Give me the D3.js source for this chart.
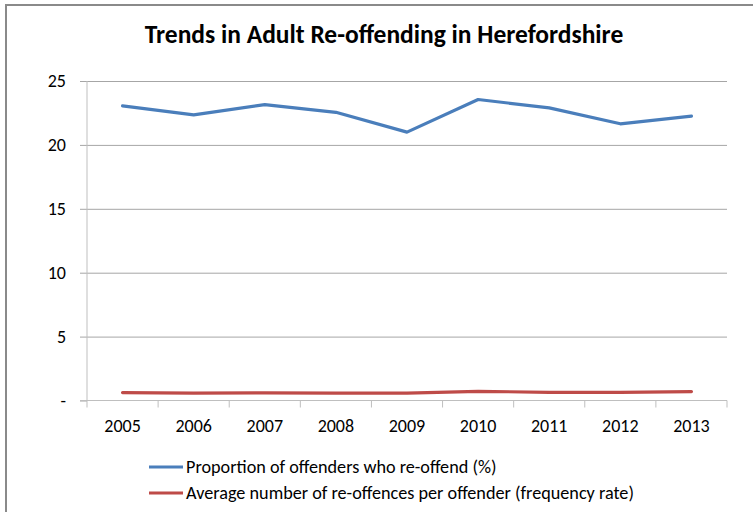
<!DOCTYPE html>
<html>
<head>
<meta charset="utf-8">
<script src="https://cdn.jsdelivr.net/npm/d3@7"></script>
<style>
  body { margin: 0; background: #fff; }
  svg { display: block; }
  text { font-family: Carlito, Lato, "Liberation Sans", sans-serif; fill: #000; }
</style>
</head>
<body>
<svg width="753" height="512"></svg>
<script>
const years = ['2005', '2006', '2007', '2008', '2009', '2010', '2011', '2012', '2013'];
const proportion = [23.05, 22.35, 23.15, 22.55, 21.0, 23.55, 22.9, 21.65, 22.25];
const frequency = [0.62, 0.57, 0.6, 0.57, 0.57, 0.72, 0.64, 0.64, 0.7];
const yTicks = [0, 5, 10, 15, 20, 25];
const seriesNames = [
  'Proportion of offenders who re-offend (%)',
  'Average number of re-offences per offender (frequency rate)'
];
const seriesColors = ['#4A7EBB', '#BE4B48'];

const svg = d3.select('svg');

// outer chart frame (runs off the right and bottom edges)
svg.append('rect')
    .attr('x', 6).attr('y', 5)
    .attr('width', 800).attr('height', 600)
    .attr('fill', 'none')
    .attr('stroke', '#8a8a8a')
    .attr('stroke-width', 2);

svg.append('text')
    .attr('x', 384).attr('y', 43)
    .attr('text-anchor', 'middle')
    .style('font-size', '25.5px')
    .style('font-weight', 'bold')
    .text('Trends in Adult Re-offending in Herefordshire');

const x = d3.scaleBand().domain(years).range([87, 727]);
const y = d3.scaleLinear().domain([0, 25]).range([400.5, 81]);

// gridlines + y axis
const yAxis = svg.append('g')
    .attr('transform', 'translate(87,0)')
    .call(d3.axisLeft(y).tickValues(yTicks).tickSize(7).tickPadding(14)
      .tickFormat(d => d === 0 ? '-' : d));
yAxis.select('.domain').remove();
yAxis.selectAll('.tick line').attr('stroke', '#a6a6a6').attr('x2', -7);
yAxis.selectAll('.tick').filter(d => d > 0).append('line')
    .attr('x1', 0).attr('x2', 640).attr('stroke', '#a6a6a6');
yAxis.selectAll('.tick text').style('font-size', '18px').style('font-family', null);
yAxis.append('line')
    .attr('y1', y(0)).attr('y2', y(25))
    .attr('stroke', '#bfbfbf');

// x axis with ticks between categories
const xg = svg.append('g').attr('transform', `translate(0,${y(0)})`);
xg.append('line').attr('x1', 80).attr('x2', 727).attr('stroke', '#bfbfbf');
xg.selectAll('line.cat')
    .data(years.concat(['end']))
    .join('line')
    .attr('class', 'cat')
    .attr('x1', (d, i) => i < years.length ? x(d) : x.range()[1])
    .attr('x2', (d, i) => i < years.length ? x(d) : x.range()[1])
    .attr('y1', 0).attr('y2', 7)
    .attr('stroke', '#bfbfbf');
xg.selectAll('text')
    .data(years)
    .join('text')
    .attr('x', d => x(d) + x.bandwidth() / 2)
    .attr('y', 31)
    .attr('text-anchor', 'middle')
    .style('font-size', '18px')
    .text(d => d);

const line = d3.line()
    .x((d, i) => x(years[i]) + x.bandwidth() / 2)
    .y(d => y(d));

[proportion, frequency].forEach((s, i) => {
  svg.append('path')
      .datum(s)
      .attr('d', line)
      .attr('fill', 'none')
      .attr('stroke', seriesColors[i])
      .attr('stroke-width', 3.2)
      .attr('stroke-linejoin', 'round')
      .attr('stroke-linecap', 'round');
});

// legend
const lg = svg.append('g');
seriesNames.forEach((name, i) => {
  const ly = 467 + i * 26;
  lg.append('line')
      .attr('x1', 149).attr('x2', 183)
      .attr('y1', ly).attr('y2', ly)
      .attr('stroke', seriesColors[i])
      .attr('stroke-width', 3.2);
  lg.append('text')
      .attr('x', 186).attr('y', ly + 6)
      .style('font-size', '18.2px')
      .text(name);
});
</script>
</body>
</html>
